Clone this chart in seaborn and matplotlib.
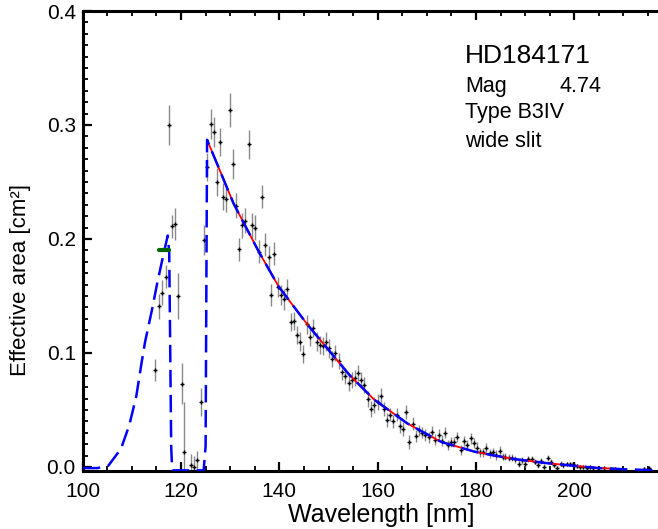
import matplotlib
matplotlib.use("Agg")
import matplotlib.pyplot as plt
import seaborn as sns
import pandas as pd
from matplotlib.ticker import MultipleLocator

# ---------------- data ----------------
obs_wavelength = [
    114.8, 115.5, 116.2, 116.9, 117.5, 118.2, 118.8, 119.4, 120.1, 120.7,
    122.0, 122.7, 123.3, 124.0, 124.7, 125.3, 126.0, 126.7, 127.3, 127.9,
    128.6, 129.2, 129.9, 130.5, 131.2, 131.8, 132.5, 133.1, 133.8, 134.4,
    135.1, 135.8, 136.4, 137.1, 137.8, 138.4, 139.0, 139.7, 140.3, 141.0,
    141.6, 142.3, 143.0, 143.6, 144.3, 144.9, 145.6, 146.2, 146.9, 147.6,
    148.2, 148.8, 149.5, 150.1, 150.8, 151.4, 152.1, 152.7, 153.4, 154.1,
    154.8, 155.4, 156.0, 156.7, 157.3, 158.0, 158.6, 159.3, 160.0, 160.6,
    161.2, 161.9, 162.6, 163.2, 163.9, 164.6, 165.2, 165.8, 166.4, 167.1,
    167.8, 168.4, 169.1, 169.7, 170.4, 171.1, 171.7, 172.4, 173.1, 173.7,
    174.3, 175.0, 175.6, 176.2, 176.9, 177.6, 178.2, 178.9, 179.5, 180.2,
    180.8, 181.5, 182.1, 182.8, 183.5, 184.1, 184.8, 185.4, 186.0, 186.7,
    187.4, 188.0, 188.7, 189.3, 190.0, 190.6, 191.3, 192.0, 192.6, 193.3,
    193.9, 194.6, 195.2, 195.8, 196.5, 197.2, 197.8, 198.5, 199.1, 199.8,
    200.5, 201.1, 201.8, 202.5, 203.1, 203.9, 204.9, 206.1, 207.5, 208.3,
    214.1, 215.1,
]
obs_area = [
    0.085, 0.141, 0.153, 0.167, 0.300, 0.211, 0.213, 0.150, 0.073, 0.013,
    0.002, 0.000, 0.006, 0.057, 0.199, 0.263, 0.301, 0.294, 0.250, 0.285,
    0.237, 0.235, 0.313, 0.266, 0.229, 0.191, 0.212, 0.216, 0.283, 0.212,
    0.210, 0.189, 0.237, 0.195, 0.184, 0.151, 0.187, 0.158, 0.151, 0.147,
    0.156, 0.127, 0.128, 0.116, 0.110, 0.099, 0.125, 0.114, 0.122, 0.110,
    0.107, 0.106, 0.110, 0.104, 0.095, 0.100, 0.093, 0.083, 0.080, 0.074,
    0.076, 0.078, 0.082, 0.076, 0.072, 0.060, 0.051, 0.054, 0.057, 0.062,
    0.051, 0.041, 0.046, 0.040, 0.046, 0.036, 0.033, 0.048, 0.022, 0.038,
    0.027, 0.032, 0.030, 0.028, 0.026, 0.031, 0.024, 0.028, 0.023, 0.030,
    0.019, 0.022, 0.022, 0.026, 0.015, 0.023, 0.019, 0.025, 0.021, 0.017,
    0.013, 0.013, 0.017, 0.012, 0.013, 0.0105, 0.014, 0.009, 0.009, 0.008,
    0.008, 0.0067, 0.003, 0.006, 0.0026, 0.007, 0.0067, 0.0047, 0.0018, 0.0055,
    0.0003, 0.008, 0.0047, 0.0018, -0.001, 0.003, 0.0015, 0.0024, 0.0024, 0.0024,
    0.001, 0.000, 0.000, -0.001, 0.000, -0.001, -0.001, -0.001, -0.002, -0.002,
    -0.002, -0.001,
]
obs_error = [
    0.010, 0.011, 0.011, 0.010, 0.0175, 0.010, 0.014, 0.020, 0.018, 0.044,
    0.009, 0.010, 0.008, 0.012, 0.013, 0.012, 0.013, 0.013, 0.012, 0.012,
    0.012, 0.011, 0.015, 0.013, 0.011, 0.010, 0.011, 0.011, 0.013, 0.011,
    0.011, 0.010, 0.010, 0.010, 0.010, 0.0095, 0.010, 0.009, 0.009, 0.009,
    0.009, 0.008, 0.008, 0.008, 0.008, 0.008, 0.008, 0.008, 0.008, 0.008,
    0.008, 0.008, 0.008, 0.008, 0.007, 0.007, 0.007, 0.007, 0.007, 0.007,
    0.007, 0.007, 0.007, 0.007, 0.007, 0.007, 0.007, 0.007, 0.007, 0.007,
    0.006, 0.006, 0.006, 0.006, 0.006, 0.006, 0.006, 0.006, 0.006, 0.006,
    0.005, 0.005, 0.005, 0.005, 0.005, 0.005, 0.005, 0.005, 0.005, 0.005,
    0.0045, 0.0045, 0.0045, 0.0045, 0.0045, 0.0045, 0.0045, 0.0045, 0.0045, 0.0045,
    0.004, 0.004, 0.004, 0.004, 0.004, 0.004, 0.004, 0.003, 0.003, 0.003,
    0.003, 0.003, 0.003, 0.003, 0.0025, 0.0025, 0.0025, 0.0025, 0.0025, 0.0025,
    0.0025, 0.0025, 0.002, 0.002, 0.002, 0.002, 0.002, 0.002, 0.002, 0.002,
    0.002, 0.002, 0.002, 0.002, 0.002, 0.002, 0.002, 0.002, 0.002, 0.002,
    0.002, 0.002,
]

model_wavelength = [
    100.0, 103.0, 105.2, 107.8, 109.5, 110.9, 112.0, 112.7, 114.1, 115.1,
    116.3, 117.3, 117.6, 117.8, 118.0, 118.2, 124.6, 125.0, 125.3, 130.7,
    135.8, 139.9, 145.7, 151.1, 154.2, 159.3, 166.1, 172.9, 179.7, 183.1,
    188.0, 194.7, 200.0, 205.0, 210.0, 217.0,
]
model_area = [
    -0.001, -0.001, 0.001, 0.016, 0.037, 0.062, 0.092, 0.110, 0.138, 0.160,
    0.184, 0.203, 0.188, 0.105, 0.018, -0.003, -0.003, 0.018, 0.287, 0.231,
    0.189, 0.158, 0.125, 0.097, 0.081, 0.059, 0.038, 0.022, 0.0134, 0.0105,
    0.0068, 0.0032, 0.001, -0.001, -0.002, -0.003,
]

fit_wavelength = [125.3, 130.7, 135.8, 139.9, 145.7, 151.1, 154.2, 159.3,
                  166.1, 172.9, 179.7, 183.1, 188.0, 194.7, 200.0, 205.0, 208.3]
fit_area = [0.287, 0.231, 0.189, 0.158, 0.125, 0.097, 0.081, 0.059,
            0.038, 0.022, 0.0134, 0.0105, 0.0068, 0.0032, 0.001, -0.001, -0.0015]

band_wavelength = [115.6, 117.6]
band_area = [0.190, 0.190]

star_name = "HD184171"
mag_label, mag_value = "Mag", "4.74"
type_label = "Type B3IV"
slit_label = "wide slit"
x_label = "Wavelength [nm]"
y_label = "Effective area [cm²]"

# ---------------- figure ----------------
sns.set_style("ticks")
plt.rcParams['font.family'] = ['Liberation Sans', 'DejaVu Sans']

W, H = 658, 529
fig = plt.figure(figsize=(W / 100, H / 100), dpi=100)
left_px, right_px, top_px, bot_px = 82.7, 658.0, 11.0, 470.7
ax = fig.add_axes([left_px / W, 1 - bot_px / H, (right_px - left_px) / W,
                   (bot_px - top_px) / H])

obs = pd.DataFrame({"wl": obs_wavelength, "area": obs_area, "err": obs_error})
model = pd.DataFrame({"wl": model_wavelength, "area": model_area})
fit = pd.DataFrame({"wl": fit_wavelength, "area": fit_area})
band = pd.DataFrame({"wl": band_wavelength, "area": band_area})

ax.errorbar(obs["wl"], obs["area"], yerr=obs["err"], fmt="none",
            ecolor="#8a8a8a", elinewidth=1.0, capsize=0, zorder=2)
sns.scatterplot(data=obs, x="wl", y="area", ax=ax, marker="+", color="black",
                s=8, linewidth=1.0, zorder=3, legend=False)

sns.lineplot(data=fit, x="wl", y="area", ax=ax, color="red", lw=1.3,
             estimator=None, sort=False, zorder=4, legend=False)
sns.lineplot(data=model, x="wl", y="area", ax=ax, color="blue", lw=1.8,
             linestyle=(0, (7, 3)), estimator=None, sort=False, zorder=5,
             legend=False)
sns.lineplot(data=band, x="wl", y="area", ax=ax, color="#006400", lw=3.0,
             estimator=None, sort=False, zorder=6, legend=False)

ax.set_xlim(100, 100 + (right_px - left_px) / 4.916)
ax.set_ylim(-0.0033, 0.4)
ax.xaxis.set_major_locator(MultipleLocator(20))
ax.xaxis.set_minor_locator(MultipleLocator(5))
ax.yaxis.set_major_locator(MultipleLocator(0.1))
ax.yaxis.set_minor_locator(MultipleLocator(0.01))
ax.yaxis.set_major_formatter(matplotlib.ticker.FormatStrFormatter("%.1f"))

for s in ["left", "bottom", "top"]:
    ax.spines[s].set_linewidth(2.2)
    ax.spines[s].set_color("black")
ax.spines["right"].set_visible(False)

ax.tick_params(which="both", direction="in", top=True, right=False,
               colors="black", labelsize=15)
ax.tick_params(which="major", length=6.5, width=1.6)
ax.tick_params(axis="x", which="major", pad=8)
ax.tick_params(axis="y", which="major", pad=5)
ax.tick_params(which="minor", length=3.5, width=1.3)
ax.set_xlabel("")
ax.set_ylabel("")

fig.text(381.5 / W, 1 - 522 / H, x_label, ha="center", va="baseline",
         fontsize=18, color="black")
fig.text(21 / W, 1 - 280 / H, y_label, ha="center", va="center",
         rotation=90, fontsize=16, color="black")

fig.text(465 / W, 1 - 63 / H, star_name, ha="left", va="baseline",
         fontsize=19, color="black")
fig.text(465 / W, 1 - 92 / H, mag_label, ha="left", va="baseline",
         fontsize=15.5, color="black")
fig.text(559 / W, 1 - 92 / H, mag_value, ha="left", va="baseline",
         fontsize=15.5, color="black")
fig.text(465 / W, 1 - 118 / H, type_label, ha="left", va="baseline",
         fontsize=15.5, color="black")
fig.text(465 / W, 1 - 147 / H, slit_label, ha="left", va="baseline",
         fontsize=15.5, color="black")

fig.savefig("out.png", dpi=100)
